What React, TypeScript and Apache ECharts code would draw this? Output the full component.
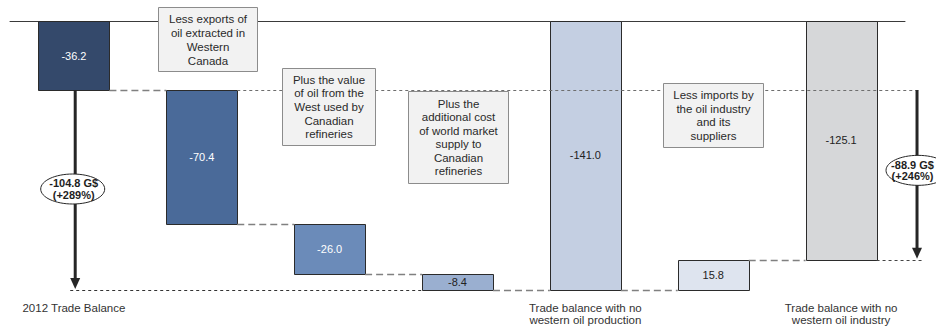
import React, { useEffect, useRef } from 'react';
import * as echarts from 'echarts';

// Waterfall: 2012 trade balance (G$) and the effect of removing western oil
const categories = [
  '2012 Trade Balance',
  '',
  '',
  '',
  'Trade balance with no\nwestern oil production',
  '',
  'Trade balance with no\nwestern oil industry',
];
const values = [-36.2, -70.4, -26.0, -8.4, -141.0, 15.8, -125.1];
const isTotal = [true, false, false, false, true, false, true];

// Bracketed differences shown with arrows
const bridgeCategory = [0, 6];
const bridgeFrom = [-36.2, -36.2];
const bridgeTo = [-141.0, -125.1];
const bridgeLabels = ['-104.8 G$\n(+289%)', '-88.9 G$\n(+246%)'];

// Explanatory notes
const noteTexts = [
  'Less exports of\noil extracted in\nWestern\nCanada',
  'Plus the value\nof oil from the\nWest used by\nCanadian\nrefineries',
  'Plus the\nadditional cost\nof world market\nsupply to\nCanadian\nrefineries',
  'Less imports by\nthe oil industry\nand its\nsuppliers',
];

// ---- styling ----
const FONT = "'Liberation Sans', Arial, Helvetica, sans-serif";
const BAR_FILL = ['#34496b', '#4a6a99', '#6b8bb9', '#9aafd0', '#c4cfe2', '#dee4ef', '#d6d7d9'];
const LABEL_FILL = ['#ffffff', '#ffffff', '#ffffff', '#222222', '#222222', '#222222', '#222222'];
const BAR_RATIO = 0.555;
const BRIDGE_OFFSET = [0.01, 0.594];
const BRIDGE_ELLIPSE_DX = [-2.5, 1];
const BRIDGE_TEXT_DX = [-1.5, -4.5];
const BRIDGE_LABEL_DY = [-0.5, -4];
const NOTE_BOXES = [
  { x: 158, y: 7, w: 99, h: 64, lh: 14 },
  { x: 282, y: 68, w: 93, h: 77, lh: 13.7 },
  { x: 408, y: 91, w: 100, h: 92, lh: 13.4 },
  { x: 663, y: 83, w: 100, h: 64, lh: 13.7 },
];

// start / end level of every bar
const spans: [number, number][] = (() => {
  let run = 0;
  return values.map((v, i) => {
    if (isTotal[i]) {
      run = v;
      return [0, v] as [number, number];
    }
    const s = run;
    run = Math.round((run + v) * 10) / 10;
    return [s, run] as [number, number];
  });
})();

function buildOption(): any {
  const barSeries = {
    type: 'custom',
    xAxisIndex: 0,
    z: 3,
    silent: true,
    encode: { x: 0, y: [1, 2] },
    data: spans.map((s, i) => [i, s[0], s[1]]),
    renderItem: (params: any, api: any) => {
      const i = params.dataIndex;
      const a = api.coord([i, api.value(1)]);
      const b = api.coord([i, api.value(2)]);
      const w = api.size([1, 0])[0] * BAR_RATIO;
      const y0 = Math.min(a[1], b[1]);
      const h = Math.abs(b[1] - a[1]);
      return {
        type: 'group',
        children: [
          {
            type: 'rect',
            shape: { x: Math.round(a[0] - w / 2) + 0.5, y: Math.round(y0) + 0.5, width: Math.round(w), height: Math.round(h) },
            style: { fill: BAR_FILL[i], stroke: '#2b2b2b', lineWidth: 1 },
          },
          {
            type: 'text',
            x: a[0],
            y: y0 + h / 2,
            style: {
              text: values[i].toFixed(1),
              fill: LABEL_FILL[i],
              font: `11px ${FONT}`,
              align: 'center',
              verticalAlign: 'middle',
              textAlign: 'center',
              textVerticalAlign: 'middle',
            },
          },
        ],
      };
    },
  };

  const overlaySeries = {
    type: 'custom',
    xAxisIndex: 0,
    z: 5,
    silent: true,
    data: [[0, 0]],
    renderItem: (params: any, api: any) => {
      const band = api.size([1, 0])[0];
      const half = (band * BAR_RATIO) / 2;
      const cx = (i: number) => api.coord([i, 0])[0];
      const py = (v: number) => Math.round(api.coord([0, v])[1]) + 0.5;
      const children: any[] = [];

      // connectors between neighbouring bars
      for (let i = 0; i < spans.length - 1; i++) {
        const y = py(spans[i][1]);
        children.push({
          type: 'line',
          shape: { x1: cx(i) + half, y1: y, x2: cx(i + 1) - half, y2: y },
          style: { stroke: '#808080', lineWidth: 1.5, lineDash: [7, 4] },
        });
      }

      const ax = bridgeCategory.map((c, k) => cx(c) + BRIDGE_OFFSET[k] * band);

      // dotted reference levels
      const dotted = (x1: number, x2: number, y: number, color: string) =>
        children.push({
          type: 'line',
          shape: { x1, y1: y, x2, y2: y },
          style: { stroke: color, lineWidth: 1, lineDash: [3, 3] },
        });
      dotted(ax[0] - 5, cx(3) - half, py(bridgeTo[0]), '#333333');
      dotted(cx(1) + half, ax[1] + 4, py(bridgeFrom[1]), '#6e6e6e');
      dotted(cx(6) + half, ax[1] + 5, py(bridgeTo[1]), '#444444');

      // arrows with their labels
      bridgeCategory.forEach((c, k) => {
        const x = ax[k];
        const y1 = api.coord([c, bridgeFrom[k]])[1];
        const y2 = api.coord([c, bridgeTo[k]])[1] - 1;
        const ym = (y1 + y2) / 2 + BRIDGE_LABEL_DY[k];
        children.push({
          type: 'line',
          shape: { x1: x, y1, x2: x, y2: y2 - 8 },
          style: { stroke: '#262626', lineWidth: 3 },
        });
        children.push({
          type: 'polygon',
          shape: { points: [[x - 5, y2 - 11], [x + 5, y2 - 11], [x, y2]] },
          style: { fill: '#262626' },
        });
        children.push({
          type: 'ellipse',
          shape: { cx: x + BRIDGE_ELLIPSE_DX[k], cy: ym, rx: 32, ry: 15 },
          style: { fill: '#ffffff', stroke: '#262626', lineWidth: 1 },
        });
        children.push({
          type: 'text',
          x: x + BRIDGE_TEXT_DX[k],
          y: ym,
          style: {
            text: bridgeLabels[k],
            fill: '#1e1e1e',
            font: `bold 11px ${FONT}`,
            lineHeight: 11.5,
            align: 'center',
            verticalAlign: 'middle',
            textAlign: 'center',
            textVerticalAlign: 'middle',
          },
        });
      });

      return { type: 'group', children };
    },
  };

  const notes = NOTE_BOXES.map((b, i) => ({
    type: 'group',
    x: b.x,
    y: b.y,
    z: 100,
    children: [
      {
        type: 'rect',
        z: 100,
        shape: { x: 0.5, y: 0.5, width: b.w, height: b.h },
        style: { fill: '#f2f2f2', stroke: '#8c8c8c', lineWidth: 1 },
      },
      {
        type: 'text',
        z: 101,
        x: b.w / 2 + 0.5,
        y: b.h / 2 + 0.5,
        style: {
          text: noteTexts[i],
          fill: '#2a2a2a',
          font: `11.5px ${FONT}`,
          lineHeight: b.lh,
          align: 'center',
          verticalAlign: 'middle',
          textAlign: 'center',
          textVerticalAlign: 'middle',
        },
      },
    ],
  }));

  return {
    animation: false,
    backgroundColor: '#ffffff',
    grid: { left: 10, right: 31, top: 21, bottom: 30.4 },
    xAxis: [
      {
        type: 'category',
        data: categories,
        position: 'top',
        axisLine: { show: true, onZero: false, lineStyle: { color: '#3a3a3a', width: 1 } },
        axisTick: { show: false },
        axisLabel: { show: false },
        splitLine: { show: false },
      },
      {
        type: 'category',
        data: categories,
        position: 'bottom',
        axisLine: { show: false },
        axisTick: { show: false },
        splitLine: { show: false },
        axisLabel: {
          show: true,
          interval: 0,
          margin: 4,
          color: '#333333',
          fontSize: 11.5,
          lineHeight: 12,
          fontFamily: FONT,
        },
      },
    ],
    yAxis: { type: 'value', min: -145, max: 0, show: false },
    series: [barSeries, overlaySeries],
    graphic: notes,
  };
}

export default function App() {
  const ref = useRef<HTMLDivElement>(null);
  useEffect(() => {
    if (!ref.current) return;
    const chart = echarts.init(ref.current, undefined, { renderer: 'svg' });
    chart.setOption(buildOption());
    return () => chart.dispose();
  }, []);
  return (
    <div
      ref={ref}
      style={{ position: 'fixed', left: 0, top: 0, width: 936, height: 328, background: '#fff' }}
    />
  );
}
